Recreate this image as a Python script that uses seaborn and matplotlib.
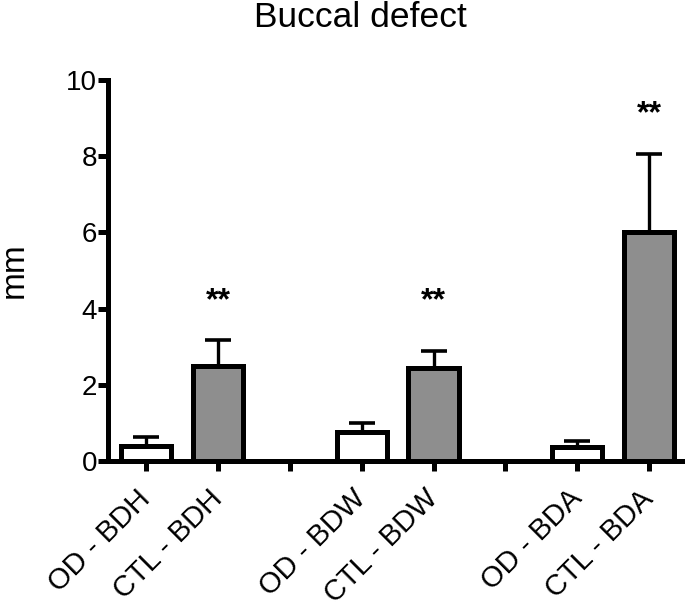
import matplotlib
matplotlib.use("Agg")
import matplotlib.pyplot as plt
import seaborn as sns
import pandas as pd
import numpy as np

# Data
tick_labels = ["OD - BDH", "CTL - BDH", "", "OD - BDW", "CTL - BDW", "", "OD - BDA", "CTL - BDA"]
positions = [0, 1, 3, 4, 6, 7]
groups = ["OD", "CTL", "OD", "CTL", "OD", "CTL"]
means = [0.40, 2.50, 0.75, 2.45, 0.37, 6.00]
sem = [0.22, 0.68, 0.25, 0.43, 0.15, 2.05]
star_pos = [1, 4, 7]
star_y = [4.2, 4.2, 9.1]
star_text = ["**", "**", "**"]

sns.set_theme(style="ticks")
plt.rcParams['font.family'] = ['Liberation Sans', 'DejaVu Sans']
plt.rcParams['text.color'] = 'black'
plt.rcParams['axes.labelcolor'] = 'black'

df = pd.DataFrame({"pos": positions, "mean": means, "group": groups})

fig = plt.figure(figsize=(6.85, 6.09), dpi=100)
ax = fig.add_axes([0.158, 0.243, 0.842, 0.626])

sns.barplot(data=df, x="pos", y="mean", hue="group", native_scale=True,
            palette={"OD": "#ffffff", "CTL": "#8e8e8e"}, width=0.7,
            edgecolor="black", linewidth=3.6, dodge=False, legend=False, ax=ax)

ax.errorbar(positions, means, yerr=[np.zeros(len(sem)), sem], fmt="none",
            ecolor="black", elinewidth=2.4, capsize=9.5, capthick=2.6, zorder=1)

for p, y, t in zip(star_pos, star_y, star_text):
    ax.text(p, y, t, ha="center", va="center", fontsize=23, fontweight="bold", color="black")

ax.set_xlim(-0.53, 7.5)
ax.set_ylim(0, 10)
ax.set_yticks([0, 2, 4, 6, 8, 10])
ax.set_xticks(range(8))
ax.set_xticklabels(tick_labels, rotation=45, ha="right", va="center", rotation_mode="anchor")
ax.tick_params(axis="both", width=3.6, length=7, labelsize=20, color="black", labelcolor="black")
ax.tick_params(axis="x", pad=17, labelsize=21)
ax.tick_params(axis="y", pad=1)
for s in ["left", "bottom"]:
    ax.spines[s].set_linewidth(3.6)
    ax.spines[s].set_color("black")
sns.despine(ax=ax)
ax.set_xlabel("")
ax.set_ylabel("mm", fontsize=24, labelpad=26, color="black")
fig.text(0.526, 0.972, "Buccal defect", ha="center", va="center", fontsize=25.5, color="black")

fig.savefig("out.png", dpi=100)
